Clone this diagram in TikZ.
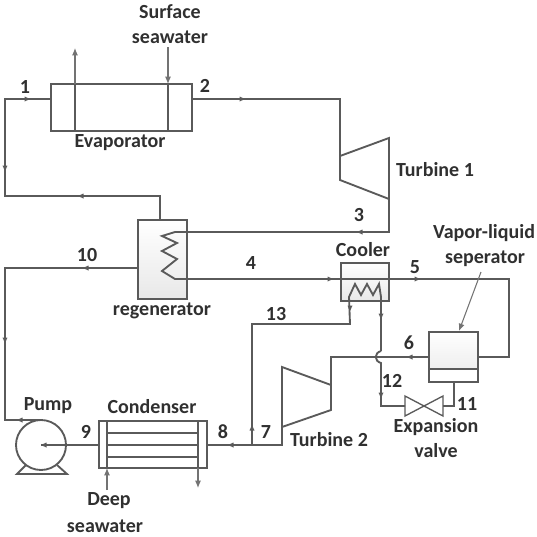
\documentclass[tikz,border=0pt]{standalone}
\usepackage{fontspec}
\setmainfont{Carlito}
\usetikzlibrary{arrows.meta}
\definecolor{ln}{HTML}{5A5A5A}
\definecolor{tx}{HTML}{303030}
\definecolor{shade}{HTML}{E8E8E8}
\tikzset{
  x=0.75pt,y=-0.75pt,
  pipe/.style={draw=ln,line width=1.4pt,line join=miter},
  thinline/.style={draw=ln,line width=1pt},
  thinpipe/.style={draw=ln!85,line width=0.8pt},
  flowtip/.style={-{Latex[length=5.5pt,width=4.5pt]}},
  eq/.style={draw=ln,line width=1.4pt,inner sep=0pt,outer sep=0pt},
  shadedeq/.style={eq,top color=white,bottom color=shade},
  lab/.style={font=\fontsize{15}{17}\selectfont\bfseries,text=tx,inner sep=0pt},
}
\newcommand{\flowmark}[3]{\fill[ln,shift={(#1,#2)},rotate=#3] (3,0) -- (-2.5,-2.5) -- (-2.5,2.5) -- cycle;}
\begin{document}
\begin{tikzpicture}
\useasboundingbox (0,0) rectangle (537,537);
% ports
\coordinate (p1a) at (51,99); \coordinate (p1b) at (5,99); \coordinate (p1c) at (5,196); \coordinate (p1d) at (160,196); \coordinate (p1e) at (160,220);
\coordinate (p2a) at (192,99); \coordinate (p2b) at (340,99); \coordinate (t1a) at (340,156); \coordinate (t1b) at (340,180); \coordinate (t1c) at (389,199); \coordinate (t1d) at (389,138);
\coordinate (p3a) at (389,232); \coordinate (r1) at (175,232); \coordinate (r2) at (175,279);
\coordinate (c1) at (509,279); \coordinate (c2) at (509,357); \coordinate (s1) at (478,357); \coordinate (s2) at (429,357);
\coordinate (t2a) at (331,357); \coordinate (t2b) at (331,385); \coordinate (t2c) at (331,410); \coordinate (t2d) at (282,427); \coordinate (t2e) at (282,367); \coordinate (t2f) at (282,445);
\coordinate (j7) at (252,445); \coordinate (k1) at (252,324); \coordinate (k2) at (350,324);
\coordinate (cd1) at (207,445); \coordinate (cd2) at (99,445);
\coordinate (v1) at (405,406); \coordinate (v2) at (443,406); \coordinate (v3) at (454,406); \coordinate (s3) at (454,382);
\coordinate (w1) at (381,406); \coordinate (w2) at (381,363); \coordinate (w3) at (381,351);
\coordinate (rg) at (138,268); \coordinate (q1) at (5,268); \coordinate (q2) at (5,420); \coordinate (q3) at (41,420);
% equipment
\node[eq,minimum width=105.75pt,minimum height=35.25pt] (evap) at (121.5,107.5) {};
\node[shadedeq,minimum width=36.75pt,minimum height=59.25pt] (regen) at (162.5,259.5) {};
\node[shadedeq,minimum width=36pt,minimum height=28.5pt] (cooler) at (365,282) {};
\node[shadedeq,minimum width=36.75pt,minimum height=37.5pt] (sep) at (453.5,357) {};
\node[eq,minimum width=81pt,minimum height=35.25pt] (cond) at (153,444.5) {};
\node[eq,circle,minimum size=37.5pt] (pump) at (41,445) {};
\coordinate (pumpc) at (41,445);
% pipes
\draw[pipe] (p1a) -- (p1b) -- (p1c) -- (p1d) -- (p1e);
\draw[pipe] (p2a) -- (p2b) -- (t1b) -- (t1c) -- (t1d) -- (t1a);
\draw[pipe] (t1c) -- (p3a) -- (r1) -- (162,236) -- (177,243) -- (162,251) -- (177,259) -- (162,271) -- (r2) -- (c1) -- (c2) -- (s1);
\draw[pipe] (s2) -- (t2a) -- (t2b) -- (t2c) -- (t2d);
\draw[pipe] (t2b) -- (t2e) -- (t2f) -- (cd1);
\draw[pipe] (j7) -- (k1) -- (k2) -- (349,297) -- (355,284) -- (361,295) -- (367,284) -- (373,295) -- (379,284) -- (381,297) -- (381,301) -- (w3);
\draw[pipe] (w3) .. controls (374,353) and (374,361) .. (w2) -- (w1) -- (v1);
\draw[thinline] (v1) -- (405,396) -- (443,416) -- (v2) -- (443,396) -- (405,416) -- cycle;
\draw[pipe] (v2) -- (v3) -- (s3);
\draw[pipe] (rg) -- (q1) -- (q2) -- (q3);
\draw[pipe] (cd2) -- (pumpc);
\draw[pipe] (26,465) -- (17,474) -- (67,474) -- (57,465);
% inner details
\draw[pipe] (75,84) -- (75,131) (168,84) -- (168,131);
\draw[pipe] (107,421) -- (107,468) (198,421) -- (198,468);
\draw[pipe] (107,433) -- (198,433) (107,445) -- (198,445) (107,457) -- (198,457);
\fill[white] (430,370) rectangle (477,381);
\draw[pipe] (sep.north west) rectangle (sep.south east);
\draw[pipe] (429,369) -- (478,369);
% seawater arrows
\coordinate (sa) at (75,48); \coordinate (sb) at (168,47); \coordinate (sc) at (107,490); \coordinate (sd) at (198,488);
\coordinate (ve) at (481,272); \coordinate (vf) at (459,331);
\draw[thinpipe,flowtip] (75,84) -- (sa);
\draw[thinpipe,flowtip] (sb) -- (168,84);
\draw[thinpipe,flowtip] (sc) -- (107,468);
\draw[thinpipe,flowtip] (198,468) -- (sd);
\draw[thinpipe,flowtip] (ve) -- (vf);
% flow marks
\flowmark{27}{99}{0}\flowmark{5}{168}{-90}\flowmark{81}{196}{180}\flowmark{242}{99}{0}
\flowmark{360}{232}{180}\flowmark{86}{268}{180}\flowmark{5}{340}{-90}\flowmark{20}{420}{180}
\flowmark{330}{279}{0}\flowmark{417}{279}{0}\flowmark{410}{357}{180}\flowmark{381}{316}{-90}
\flowmark{381}{395}{-90}\flowmark{350}{308}{-90}\flowmark{252}{428}{90}\flowmark{231}{445}{180}
\flowmark{44}{445}{180}
% labels
\node[lab] (l1) at (25,87) {1};
\node[lab] (l2) at (205,86) {2};
\node[lab] (l3) at (359,215) {3};
\node[lab] (l4) at (251,263) {4};
\node[lab] (l5) at (415,267) {5};
\node[lab] (l6) at (409,343) {6};
\node[lab] (l7) at (266,432) {7};
\node[lab] (l8) at (223,432) {8};
\node[lab] (l9) at (86,432) {9};
\node[lab] (l10) at (87,255) {10};
\node[lab] (l11) at (467,404) {11};
\node[lab] (l12) at (392,381) {12};
\node[lab] (l13) at (276,314) {13};
\node[lab] (n1) at (170,12) {Surface};
\node[lab] (n2) at (170,37) {seawater};
\node[lab] (n3) at (120,143) {Evaporator};
\node[lab] (n4) at (435,170) {Turbine 1};
\node[lab] (n5) at (162,311) {regenerator};
\node[lab] (n6) at (363,250) {Cooler};
\node[lab] (n7) at (484,233) {Vapor-liquid};
\node[lab] (n8) at (485,259) {seperator};
\node[lab] (n9) at (48,406) {Pump};
\node[lab] (n10) at (152,407) {Condenser};
\node[lab] (n11) at (329,440) {Turbine 2};
\node[lab] (n12) at (436,427) {Expansion};
\node[lab] (n13) at (436,451) {valve};
\node[lab] (n14) at (109,501) {Deep};
\node[lab] (n15) at (105,526) {seawater};
\end{tikzpicture}
\end{document}
